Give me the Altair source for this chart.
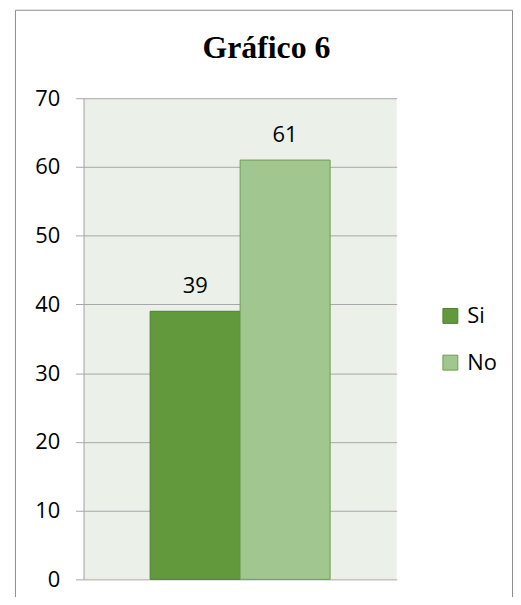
import altair as alt
import pandas as pd

TITLE = "Gráfico 6"
SERIES = ["Si", "No"]
VALUES = [39, 61]
FILLS = ["#63993D", "#A2C690"]
STROKES = ["#4E7F30", "#6E9C52"]
Y_TICKS = [0, 10, 20, 30, 40, 50, 60, 70]

df = pd.DataFrame({"serie": SERIES, "valor": VALUES})

FONT = "Open Sans"
GRID = "#A6A6A6"

x_enc = alt.X("serie:N", sort=SERIES,
              scale=alt.Scale(domain=SERIES, paddingInner=0, paddingOuter=0.74),
              axis=None)

bars = alt.Chart(df).mark_bar(strokeWidth=1).encode(
    x=x_enc,
    y=alt.Y("valor:Q",
            scale=alt.Scale(domain=[0, 70], nice=False, zero=True),
            axis=alt.Axis(values=Y_TICKS, title=None, grid=True, gridColor=GRID,
                          gridWidth=1, tickColor=GRID, tickSize=8, tickWidth=1,
                          domainColor=GRID, domainWidth=1, labelFont=FONT,
                          labelFontSize=22, labelColor="#000000", labelPadding=16)),
    color=alt.Color("serie:N", sort=SERIES,
                    scale=alt.Scale(domain=SERIES, range=FILLS),
                    legend=alt.Legend(title=None, orient="none", legendX=358, legendY=208,
                                      symbolType="square", symbolSize=225,
                                      symbolStrokeColor="#6E9C52", symbolStrokeWidth=1,
                                      labelFont=FONT, labelFontSize=22, labelColor="#000000",
                                      labelOffset=6, rowPadding=25, padding=0)),
    stroke=alt.Stroke("serie:N", sort=SERIES,
                      scale=alt.Scale(domain=SERIES, range=STROKES), legend=None),
)

labels = alt.Chart(df).mark_text(font=FONT, fontSize=22, color="#000000",
                                 baseline="alphabetic", dy=-18).encode(
    x=x_enc,
    y=alt.Y("valor:Q"),
    text=alt.Text("valor:Q"),
)

frame_data = alt.Data(values=[{"k": 1}])

title_mark = alt.Chart(frame_data).mark_text(
    text=TITLE, font="Liberation Serif", fontSize=32, fontWeight="bold",
    color="#000000", align="center", baseline="alphabetic").encode(
    x=alt.value(184), y=alt.value(-40))

FRAME = "#8C8C8C"
left_rule = alt.Chart(frame_data).mark_rule(color=FRAME, strokeWidth=1).encode(
    x=alt.value(-68.5), y=alt.value(-88.5), y2=alt.value(520))
right_rule = alt.Chart(frame_data).mark_rule(color=FRAME, strokeWidth=1).encode(
    x=alt.value(431.5), y=alt.value(-88.5), y2=alt.value(520))
top_rule = alt.Chart(frame_data).mark_rule(color=FRAME, strokeWidth=1).encode(
    x=alt.value(-68.5), x2=alt.value(431.5), y=alt.value(-88.5))

chart = alt.layer(bars, labels, title_mark, left_rule, right_rule, top_rule).properties(
    width=315, height=484,
    autosize=alt.AutoSizeParams(type="none"),
    padding={"left": 76, "top": 89, "right": 117, "bottom": 16},
).configure_view(fill="#EBF0E9", stroke=None)

chart.save("out.html", embed_options={"renderer": "svg", "actions": False})
